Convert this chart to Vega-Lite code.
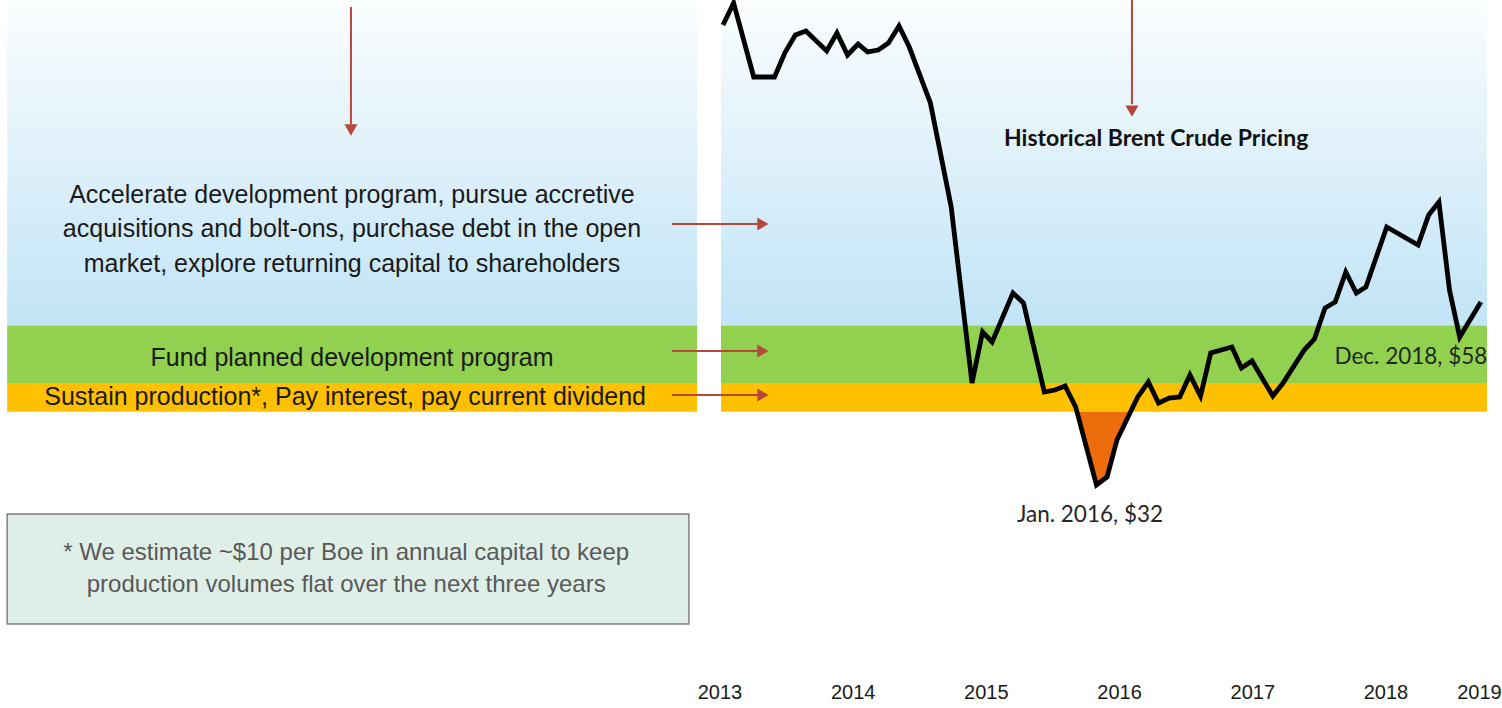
{
  "$schema": "https://vega.github.io/schema/vega-lite/v6.json",
  "width": 1502,
  "height": 708,
  "autosize": {"type": "none"},
  "padding": 0,
  "background": "white",
  "config": {"view": {"stroke": null}, "axis": {"disable": true}},
  "datasets": {
    "brent": [
      {"date": "2013-01-01", "price": 112.26},
      {"date": "2013-02-01", "price": 116.09},
      {"date": "2013-04-01", "price": 103.22},
      {"date": "2013-06-01", "price": 103.22},
      {"date": "2013-07-01", "price": 107.39},
      {"date": "2013-08-01", "price": 110.52},
      {"date": "2013-09-01", "price": 111.22},
      {"date": "2013-11-01", "price": 107.74},
      {"date": "2013-12-01", "price": 110.87},
      {"date": "2014-01-01", "price": 107.04},
      {"date": "2014-02-01", "price": 108.96},
      {"date": "2014-03-01", "price": 107.57},
      {"date": "2014-04-01", "price": 107.91},
      {"date": "2014-05-01", "price": 109.13},
      {"date": "2014-06-01", "price": 112.09},
      {"date": "2014-07-01", "price": 108.43},
      {"date": "2014-09-01", "price": 98.7},
      {"date": "2014-11-01", "price": 80.61},
      {"date": "2015-01-01", "price": 50.0},
      {"date": "2015-02-01", "price": 58.87},
      {"date": "2015-03-01", "price": 57.13},
      {"date": "2015-05-01", "price": 65.65},
      {"date": "2015-06-01", "price": 63.91},
      {"date": "2015-08-01", "price": 48.43},
      {"date": "2015-09-01", "price": 48.78},
      {"date": "2015-10-01", "price": 49.48},
      {"date": "2015-11-01", "price": 45.83},
      {"date": "2016-01-01", "price": 32.26},
      {"date": "2016-02-01", "price": 33.65},
      {"date": "2016-03-01", "price": 40.09},
      {"date": "2016-04-01", "price": 43.91},
      {"date": "2016-05-01", "price": 47.57},
      {"date": "2016-06-01", "price": 50.17},
      {"date": "2016-07-01", "price": 46.52},
      {"date": "2016-08-01", "price": 47.39},
      {"date": "2016-09-01", "price": 47.57},
      {"date": "2016-10-01", "price": 51.39},
      {"date": "2016-11-01", "price": 47.74},
      {"date": "2016-12-01", "price": 55.22},
      {"date": "2017-02-01", "price": 56.26},
      {"date": "2017-03-01", "price": 52.61},
      {"date": "2017-04-01", "price": 53.83},
      {"date": "2017-06-01", "price": 47.74},
      {"date": "2017-07-01", "price": 50.0},
      {"date": "2017-09-01", "price": 55.74},
      {"date": "2017-10-01", "price": 57.65},
      {"date": "2017-11-01", "price": 63.04},
      {"date": "2017-12-01", "price": 64.09},
      {"date": "2018-01-01", "price": 69.3},
      {"date": "2018-02-01", "price": 65.65},
      {"date": "2018-03-01", "price": 66.7},
      {"date": "2018-05-01", "price": 77.13},
      {"date": "2018-08-01", "price": 74.0},
      {"date": "2018-09-01", "price": 79.22},
      {"date": "2018-10-01", "price": 81.48},
      {"date": "2018-11-01", "price": 66.17},
      {"date": "2018-12-01", "price": 58.0},
      {"date": "2019-02-01", "price": 64.09}
    ],
    "dip": [
      {"date": "2015-11-08", "price": 45},
      {"date": "2016-01-01", "price": 32.26},
      {"date": "2016-02-01", "price": 33.65},
      {"date": "2016-03-01", "price": 40.09},
      {"date": "2016-04-01", "price": 43.91},
      {"date": "2016-04-10", "price": 45}
    ],
    "years": [
      {"year": 2013}, {"year": 2014}, {"year": 2015}, {"year": 2016},
      {"year": 2017}, {"year": 2018}
    ]
  },
  "resolve": {"scale": {"x": "independent"}},
  "layer": [
    {
      "layer": [
        {
          "data": {"values": [{}]},
          "mark": {"type": "rect", "fill": {"gradient": "linear", "x1": 0, "y1": 0, "x2": 0, "y2": 1, "stops": [{"offset": 0, "color": "#fbfdfe"}, {"offset": 1, "color": "#c1e4f6"}]}},
          "encoding": {
            "x": {"datum": {"year": 2007, "month": 4, "date": 4, "utc": true}, "type": "temporal", "scale": {"domain": [{"year": 2007, "month": 3, "date": 14, "utc": true}, {"year": 2019, "month": 4, "date": 4, "utc": true}], "nice": false}},
            "x2": {"datum": {"year": 2012, "month": 10, "date": 17, "utc": true}},
            "y": {"datum": 60, "type": "quantitative", "scale": {"domain": [-6.52, 116.61], "nice": false, "zero": false}},
            "y2": {"datum": 116.61}
          }
        },
        {
          "data": {"values": [{}]},
          "mark": {"type": "rect", "fill": "#92d050"},
          "encoding": {
            "x": {"datum": {"year": 2007, "month": 4, "date": 4, "utc": true}, "type": "temporal", "scale": {"domain": [{"year": 2007, "month": 3, "date": 14, "utc": true}, {"year": 2019, "month": 4, "date": 4, "utc": true}], "nice": false}},
            "x2": {"datum": {"year": 2012, "month": 10, "date": 17, "utc": true}},
            "y": {"datum": 50, "type": "quantitative", "scale": {"domain": [-6.52, 116.61], "nice": false, "zero": false}},
            "y2": {"datum": 60}
          }
        },
        {
          "data": {"values": [{}]},
          "mark": {"type": "rect", "fill": "#ffc000"},
          "encoding": {
            "x": {"datum": {"year": 2007, "month": 4, "date": 4, "utc": true}, "type": "temporal", "scale": {"domain": [{"year": 2007, "month": 3, "date": 14, "utc": true}, {"year": 2019, "month": 4, "date": 4, "utc": true}], "nice": false}},
            "x2": {"datum": {"year": 2012, "month": 10, "date": 17, "utc": true}},
            "y": {"datum": 45, "type": "quantitative", "scale": {"domain": [-6.52, 116.61], "nice": false, "zero": false}},
            "y2": {"datum": 50}
          }
        },
        {
          "data": {"values": [{}]},
          "mark": {"type": "rect", "fill": {"gradient": "linear", "x1": 0, "y1": 0, "x2": 0, "y2": 1, "stops": [{"offset": 0, "color": "#fbfdfe"}, {"offset": 1, "color": "#c1e4f6"}]}},
          "encoding": {
            "x": {"datum": {"year": 2012, "month": 12, "date": 26, "utc": true}, "type": "temporal", "scale": {"domain": [{"year": 2007, "month": 3, "date": 14, "utc": true}, {"year": 2019, "month": 4, "date": 4, "utc": true}], "nice": false}},
            "x2": {"datum": {"year": 2019, "month": 2, "date": 19, "utc": true}},
            "y": {"datum": 60, "type": "quantitative", "scale": {"domain": [-6.52, 116.61], "nice": false, "zero": false}},
            "y2": {"datum": 116.61}
          }
        },
        {
          "data": {"values": [{}]},
          "mark": {"type": "rect", "fill": "#92d050"},
          "encoding": {
            "x": {"datum": {"year": 2012, "month": 12, "date": 26, "utc": true}, "type": "temporal", "scale": {"domain": [{"year": 2007, "month": 3, "date": 14, "utc": true}, {"year": 2019, "month": 4, "date": 4, "utc": true}], "nice": false}},
            "x2": {"datum": {"year": 2019, "month": 2, "date": 19, "utc": true}},
            "y": {"datum": 50, "type": "quantitative", "scale": {"domain": [-6.52, 116.61], "nice": false, "zero": false}},
            "y2": {"datum": 60}
          }
        },
        {
          "data": {"values": [{}]},
          "mark": {"type": "rect", "fill": "#ffc000"},
          "encoding": {
            "x": {"datum": {"year": 2012, "month": 12, "date": 26, "utc": true}, "type": "temporal", "scale": {"domain": [{"year": 2007, "month": 3, "date": 14, "utc": true}, {"year": 2019, "month": 4, "date": 4, "utc": true}], "nice": false}},
            "x2": {"datum": {"year": 2019, "month": 2, "date": 19, "utc": true}},
            "y": {"datum": 45, "type": "quantitative", "scale": {"domain": [-6.52, 116.61], "nice": false, "zero": false}},
            "y2": {"datum": 50}
          }
        },
        {
          "data": {"name": "dip"},
          "mark": {"type": "area", "fill": "#ed6c0c", "opacity": 1},
          "encoding": {
            "x": {"field": "date", "type": "temporal", "scale": {"domain": [{"year": 2007, "month": 3, "date": 14, "utc": true}, {"year": 2019, "month": 4, "date": 4, "utc": true}], "nice": false}},
            "y": {"field": "price", "type": "quantitative", "scale": {"domain": [-6.52, 116.61], "nice": false, "zero": false}},
            "y2": {"datum": 45}
          }
        },
        {
          "data": {"name": "brent"},
          "mark": {"type": "line", "stroke": "#000000", "strokeWidth": 4.8, "strokeJoin": "miter"},
          "encoding": {
            "x": {"field": "date", "type": "temporal", "scale": {"domain": [{"year": 2007, "month": 3, "date": 14, "utc": true}, {"year": 2019, "month": 4, "date": 4, "utc": true}], "nice": false}},
            "y": {"field": "price", "type": "quantitative", "scale": {"domain": [-6.52, 116.61], "nice": false, "zero": false}}
          }
        },
        {
          "data": {"values": [{}]},
          "mark": {"type": "rule", "stroke": "#b5483b", "strokeWidth": 2},
          "encoding": {
            "x": {"datum": {"year": 2010, "month": 1, "date": 6, "utc": true}, "type": "temporal", "scale": {"domain": [{"year": 2007, "month": 3, "date": 14, "utc": true}, {"year": 2019, "month": 4, "date": 4, "utc": true}], "nice": false}},
            "y": {"datum": 115.4, "type": "quantitative", "scale": {"domain": [-6.52, 116.61], "nice": false, "zero": false}},
            "y2": {"datum": 95.0}
          }
        },
        {
          "data": {"values": [{}]},
          "mark": {"type": "point", "shape": "triangle-down", "filled": true, "fill": "#b5483b", "opacity": 1, "size": 170},
          "encoding": {
            "x": {"datum": {"year": 2010, "month": 1, "date": 6, "utc": true}, "type": "temporal", "scale": {"domain": [{"year": 2007, "month": 3, "date": 14, "utc": true}, {"year": 2019, "month": 4, "date": 4, "utc": true}], "nice": false}},
            "y": {"datum": 94.0, "type": "quantitative", "scale": {"domain": [-6.52, 116.61], "nice": false, "zero": false}}
          }
        },
        {
          "data": {"values": [{}]},
          "mark": {"type": "rule", "stroke": "#b5483b", "strokeWidth": 2},
          "encoding": {
            "x": {"datum": {"year": 2016, "month": 4, "date": 14, "utc": true}, "type": "temporal", "scale": {"domain": [{"year": 2007, "month": 3, "date": 14, "utc": true}, {"year": 2019, "month": 4, "date": 4, "utc": true}], "nice": false}},
            "y": {"datum": 116.61, "type": "quantitative", "scale": {"domain": [-6.52, 116.61], "nice": false, "zero": false}},
            "y2": {"datum": 98.5}
          }
        },
        {
          "data": {"values": [{}]},
          "mark": {"type": "point", "shape": "triangle-down", "filled": true, "fill": "#b5483b", "opacity": 1, "size": 170},
          "encoding": {
            "x": {"datum": {"year": 2016, "month": 4, "date": 14, "utc": true}, "type": "temporal", "scale": {"domain": [{"year": 2007, "month": 3, "date": 14, "utc": true}, {"year": 2019, "month": 4, "date": 4, "utc": true}], "nice": false}},
            "y": {"datum": 97.3, "type": "quantitative", "scale": {"domain": [-6.52, 116.61], "nice": false, "zero": false}}
          }
        },
        {
          "data": {"values": [{"level": 77.65}, {"level": 55.57}, {"level": 47.91}]},
          "mark": {"type": "rule", "stroke": "#b5483b", "strokeWidth": 2},
          "encoding": {
            "x": {"datum": {"year": 2012, "month": 8, "date": 4, "utc": true}, "type": "temporal", "scale": {"domain": [{"year": 2007, "month": 3, "date": 14, "utc": true}, {"year": 2019, "month": 4, "date": 4, "utc": true}], "nice": false}},
            "x2": {"datum": {"year": 2013, "month": 4, "date": 13, "utc": true}},
            "y": {"field": "level", "type": "quantitative", "scale": {"domain": [-6.52, 116.61], "nice": false, "zero": false}}
          }
        },
        {
          "data": {"values": [{"level": 77.65}, {"level": 55.57}, {"level": 47.91}]},
          "mark": {"type": "point", "shape": "triangle-right", "filled": true, "fill": "#b5483b", "opacity": 1, "size": 170},
          "encoding": {
            "x": {"datum": {"year": 2013, "month": 4, "date": 28, "utc": true}, "type": "temporal", "scale": {"domain": [{"year": 2007, "month": 3, "date": 14, "utc": true}, {"year": 2019, "month": 4, "date": 4, "utc": true}], "nice": false}},
            "y": {"field": "level", "type": "quantitative", "scale": {"domain": [-6.52, 116.61], "nice": false, "zero": false}}
          }
        },
        {
          "data": {"values": [{}]},
          "mark": {"type": "text", "font": "Liberation Sans", "fontSize": 25, "color": "#1a1a1a", "align": "center", "baseline": "middle", "lineHeight": 34.5},
          "encoding": {
            "x": {"datum": {"year": 2010, "month": 1, "date": 9, "utc": true}, "type": "temporal", "scale": {"domain": [{"year": 2007, "month": 3, "date": 14, "utc": true}, {"year": 2019, "month": 4, "date": 4, "utc": true}], "nice": false}},
            "y": {"datum": 82.78, "type": "quantitative", "scale": {"domain": [-6.52, 116.61], "nice": false, "zero": false}},
            "text": {"value": ["Accelerate development program, pursue accretive", "acquisitions and bolt-ons, purchase debt in the open", "market, explore returning capital to shareholders"]}
          }
        },
        {
          "data": {"values": [{}]},
          "mark": {"type": "text", "font": "Liberation Sans", "fontSize": 25, "color": "#1a1a1a", "align": "center", "baseline": "middle"},
          "encoding": {
            "x": {"datum": {"year": 2010, "month": 1, "date": 9, "utc": true}, "type": "temporal", "scale": {"domain": [{"year": 2007, "month": 3, "date": 14, "utc": true}, {"year": 2019, "month": 4, "date": 4, "utc": true}], "nice": false}},
            "y": {"datum": 54.35, "type": "quantitative", "scale": {"domain": [-6.52, 116.61], "nice": false, "zero": false}},
            "text": {"value": "Fund planned development program"}
          }
        },
        {
          "data": {"values": [{}]},
          "mark": {"type": "text", "font": "Liberation Sans", "fontSize": 25, "color": "#1a1a1a", "align": "center", "baseline": "middle"},
          "encoding": {
            "x": {"datum": {"year": 2009, "month": 12, "date": 20, "utc": true}, "type": "temporal", "scale": {"domain": [{"year": 2007, "month": 3, "date": 14, "utc": true}, {"year": 2019, "month": 4, "date": 4, "utc": true}], "nice": false}},
            "y": {"datum": 47.57, "type": "quantitative", "scale": {"domain": [-6.52, 116.61], "nice": false, "zero": false}},
            "text": {"value": "Sustain production*, Pay interest, pay current dividend"}
          }
        },
        {
          "data": {"values": [{}]},
          "mark": {"type": "rect", "fill": "#dfefe7", "stroke": "#7f7f7f", "strokeWidth": 1.5},
          "encoding": {
            "x": {"datum": {"year": 2007, "month": 4, "date": 4, "utc": true}, "type": "temporal", "scale": {"domain": [{"year": 2007, "month": 3, "date": 14, "utc": true}, {"year": 2019, "month": 4, "date": 4, "utc": true}], "nice": false}},
            "x2": {"datum": {"year": 2012, "month": 9, "date": 23, "utc": true}},
            "y": {"datum": 27.22, "type": "quantitative", "scale": {"domain": [-6.52, 116.61], "nice": false, "zero": false}},
            "y2": {"datum": 8.09}
          }
        },
        {
          "data": {"values": [{}]},
          "mark": {"type": "text", "font": "Liberation Sans", "fontSize": 24, "color": "#595959", "align": "center", "baseline": "middle", "lineHeight": 32},
          "encoding": {
            "x": {"datum": {"year": 2009, "month": 12, "date": 23, "utc": true}, "type": "temporal", "scale": {"domain": [{"year": 2007, "month": 3, "date": 14, "utc": true}, {"year": 2019, "month": 4, "date": 4, "utc": true}], "nice": false}},
            "y": {"datum": 20.43, "type": "quantitative", "scale": {"domain": [-6.52, 116.61], "nice": false, "zero": false}},
            "text": {"value": ["* We estimate ~$10 per Boe in annual capital to keep", "production volumes flat over the next three years"]}
          }
        },
        {
          "data": {"values": [{}]},
          "mark": {"type": "text", "font": "Lato", "fontSize": 23, "fontWeight": "bold", "color": "#111111", "align": "center", "baseline": "middle"},
          "encoding": {
            "x": {"datum": {"year": 2016, "month": 6, "date": 24, "utc": true}, "type": "temporal", "scale": {"domain": [{"year": 2007, "month": 3, "date": 14, "utc": true}, {"year": 2019, "month": 4, "date": 4, "utc": true}], "nice": false}},
            "y": {"datum": 92.43, "type": "quantitative", "scale": {"domain": [-6.52, 116.61], "nice": false, "zero": false}},
            "text": {"value": "Historical Brent Crude Pricing"}
          }
        },
        {
          "data": {"values": [{}]},
          "mark": {"type": "text", "font": "Lato", "fontSize": 22.5, "color": "#262626", "align": "center", "baseline": "middle"},
          "encoding": {
            "x": {"datum": {"year": 2015, "month": 12, "date": 13, "utc": true}, "type": "temporal", "scale": {"domain": [{"year": 2007, "month": 3, "date": 14, "utc": true}, {"year": 2019, "month": 4, "date": 4, "utc": true}], "nice": false}},
            "y": {"datum": 27.04, "type": "quantitative", "scale": {"domain": [-6.52, 116.61], "nice": false, "zero": false}},
            "text": {"value": "Jan. 2016, $32"}
          }
        },
        {
          "data": {"values": [{}]},
          "mark": {"type": "text", "font": "Lato", "fontSize": 22.5, "color": "#1e2a1e", "align": "center", "baseline": "middle"},
          "encoding": {
            "x": {"datum": {"year": 2018, "month": 7, "date": 11, "utc": true}, "type": "temporal", "scale": {"domain": [{"year": 2007, "month": 3, "date": 14, "utc": true}, {"year": 2019, "month": 4, "date": 4, "utc": true}], "nice": false}},
            "y": {"datum": 54.52, "type": "quantitative", "scale": {"domain": [-6.52, 116.61], "nice": false, "zero": false}},
            "text": {"value": "Dec. 2018, $58"}
          }
        },
        {
          "data": {"values": [{}]},
          "mark": {"type": "text", "font": "Liberation Sans", "fontSize": 20, "color": "#1a1a1a", "align": "center", "baseline": "middle"},
          "encoding": {
            "x": {"datum": {"year": 2019, "month": 1, "date": 28, "utc": true}, "type": "temporal", "scale": {"domain": [{"year": 2007, "month": 3, "date": 14, "utc": true}, {"year": 2019, "month": 4, "date": 4, "utc": true}], "nice": false}},
            "y": {"datum": -3.91, "type": "quantitative", "scale": {"domain": [-6.52, 116.61], "nice": false, "zero": false}},
            "text": {"value": "2019"}
          }
        }
      ]
    },
    {
      "data": {"name": "years"},
      "mark": {"type": "text", "font": "Liberation Sans", "fontSize": 20, "color": "#1a1a1a", "align": "center", "baseline": "middle"},
      "encoding": {
        "x": {"field": "year", "type": "quantitative", "scale": {"domain": [2007.595, 2018.871], "nice": false, "zero": false}},
        "y": {"datum": -3.91, "type": "quantitative", "scale": {"domain": [-6.52, 116.61], "nice": false, "zero": false}},
        "text": {"field": "year", "type": "quantitative", "format": "d"}
      }
    }
  ]
}
